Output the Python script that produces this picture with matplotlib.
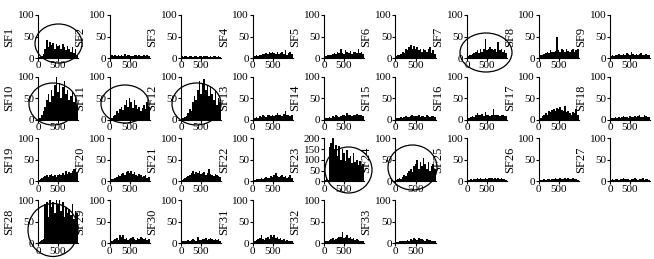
import numpy as np
import matplotlib.pyplot as plt
from matplotlib.patches import Ellipse

plt.rcParams['font.family'] = ['Liberation Serif', 'DejaVu Serif']

# bin centres along the x axis (25 bins of 40)
x_bins = np.arange(20, 1000, 40)

sf = {}
sf['SF1'] = [2, 3, 5, 10, 20, 42, 25, 38, 30, 35, 22, 33, 28, 30, 20, 32, 25, 18, 28, 22, 15, 25, 12, 20, 8]
sf['SF2'] = [5, 6, 4, 7, 5, 8, 5, 6, 4, 9, 5, 6, 7, 5, 4, 6, 8, 5, 6, 4, 5, 7, 5, 6, 4]
sf['SF3'] = [4, 3, 5, 4, 3, 4, 5, 3, 4, 4, 3, 5, 4, 3, 4, 4, 5, 3, 4, 3, 4, 5, 3, 4, 3]
sf['SF4'] = [4, 5, 6, 5, 8, 7, 10, 9, 12, 10, 14, 11, 15, 12, 10, 14, 9, 12, 15, 10, 18, 8, 12, 15, 10]
sf['SF5'] = [4, 5, 6, 8, 7, 10, 12, 9, 15, 11, 20, 12, 10, 18, 14, 12, 16, 10, 13, 15, 11, 20, 12, 14, 10]
sf['SF6'] = [5, 6, 8, 10, 15, 12, 20, 18, 25, 30, 22, 28, 20, 25, 18, 22, 15, 20, 18, 15, 20, 25, 12, 18, 10]
sf['SF7'] = [5, 6, 8, 10, 12, 15, 18, 12, 22, 15, 20, 45, 18, 20, 25, 22, 18, 20, 15, 38, 18, 20, 15, 18, 12]
sf['SF8'] = [5, 6, 8, 10, 12, 15, 12, 18, 15, 14, 16, 50, 18, 15, 20, 18, 15, 22, 16, 15, 18, 20, 15, 18, 22]
sf['SF9'] = [5, 6, 5, 8, 7, 10, 6, 8, 9, 7, 12, 10, 8, 15, 9, 8, 10, 7, 9, 12, 8, 7, 10, 8, 6]
sf['SF10'] = [3, 5, 10, 20, 30, 45, 60, 40, 70, 55, 80, 100, 65, 85, 50, 75, 90, 60, 70, 45, 55, 65, 40, 50, 35]
sf['SF11'] = [3, 5, 8, 12, 20, 15, 25, 30, 22, 35, 45, 30, 50, 40, 28, 45, 35, 25, 30, 20, 28, 35, 25, 40, 30]
sf['SF12'] = [3, 5, 6, 8, 15, 25, 20, 40, 55, 45, 70, 90, 60, 85, 95, 70, 80, 55, 75, 60, 45, 70, 35, 50, 40]
sf['SF13'] = [4, 5, 6, 5, 8, 6, 10, 8, 7, 10, 12, 8, 10, 9, 12, 15, 10, 12, 8, 14, 20, 10, 12, 8, 10]
sf['SF14'] = [3, 4, 5, 6, 5, 8, 6, 10, 8, 7, 9, 12, 10, 8, 15, 10, 12, 9, 11, 10, 14, 12, 10, 12, 8]
sf['SF15'] = [3, 4, 5, 6, 5, 6, 8, 6, 7, 8, 10, 8, 9, 8, 10, 7, 9, 8, 6, 10, 8, 7, 9, 8, 7]
sf['SF16'] = [3, 5, 6, 8, 6, 10, 15, 12, 10, 13, 8, 18, 10, 12, 9, 11, 25, 12, 10, 12, 8, 10, 12, 9, 8]
sf['SF17'] = [3, 5, 8, 10, 15, 12, 20, 18, 22, 25, 20, 28, 25, 30, 22, 20, 32, 18, 20, 15, 12, 18, 15, 25, 10]
sf['SF18'] = [3, 4, 5, 6, 5, 7, 5, 6, 8, 6, 7, 5, 8, 6, 7, 9, 6, 8, 10, 7, 6, 12, 8, 7, 6]
sf['SF19'] = [4, 6, 8, 10, 12, 15, 10, 14, 18, 12, 15, 10, 16, 18, 14, 20, 15, 25, 18, 22, 20, 25, 28, 30, 20]
sf['SF20'] = [3, 5, 6, 8, 10, 15, 12, 18, 20, 15, 22, 25, 20, 25, 18, 22, 15, 12, 18, 14, 10, 12, 15, 8, 10]
sf['SF21'] = [4, 6, 8, 10, 12, 15, 20, 25, 18, 22, 20, 25, 18, 20, 22, 15, 20, 28, 18, 15, 12, 18, 14, 12, 10]
sf['SF22'] = [3, 4, 5, 6, 5, 8, 6, 7, 10, 8, 9, 12, 10, 15, 20, 12, 10, 12, 14, 10, 12, 8, 10, 15, 8]
sf['SF23'] = [5, 10, 8, 160, 180, 200, 150, 170, 120, 165, 100, 150, 130, 95, 145, 110, 120, 85, 130, 90, 100, 75, 95, 70, 80]
sf['SF24'] = [3, 5, 8, 6, 10, 15, 12, 20, 25, 30, 22, 35, 40, 50, 30, 45, 35, 55, 40, 30, 45, 25, 35, 40, 30]
sf['SF25'] = [3, 4, 5, 4, 6, 5, 7, 6, 8, 6, 5, 7, 6, 8, 7, 9, 6, 8, 5, 7, 6, 8, 5, 6, 4]
sf['SF26'] = [3, 4, 3, 5, 4, 6, 5, 4, 6, 5, 7, 6, 5, 8, 6, 5, 7, 6, 8, 5, 6, 7, 5, 6, 4]
sf['SF27'] = [4, 5, 4, 6, 5, 4, 6, 5, 7, 5, 6, 5, 4, 6, 5, 7, 5, 4, 6, 5, 7, 4, 5, 6, 4]
sf['SF28'] = [3, 5, 8, 10, 90, 95, 60, 100, 85, 95, 70, 100, 90, 100, 75, 95, 60, 85, 70, 80, 65, 90, 55, 75, 70]
sf['SF29'] = [3, 5, 8, 10, 12, 8, 20, 15, 18, 10, 12, 8, 10, 12, 15, 10, 8, 12, 10, 14, 12, 10, 12, 8, 10]
sf['SF30'] = [4, 5, 6, 5, 8, 6, 7, 10, 8, 6, 15, 8, 7, 10, 9, 12, 8, 10, 12, 9, 8, 10, 7, 9, 6]
sf['SF31'] = [3, 6, 8, 10, 12, 20, 10, 8, 12, 15, 10, 18, 15, 20, 12, 15, 10, 12, 8, 10, 6, 8, 5, 6, 4]
sf['SF32'] = [4, 5, 6, 8, 10, 12, 8, 10, 12, 15, 14, 25, 12, 15, 18, 12, 15, 10, 12, 8, 10, 8, 6, 5, 4]
sf['SF33'] = [2, 3, 4, 5, 4, 6, 5, 8, 6, 10, 8, 12, 10, 8, 12, 9, 10, 8, 6, 9, 7, 8, 6, 5, 4]

W, H = 654, 259
fig = plt.figure(figsize=(W / 100, H / 100), dpi=100)

names = list(sf.keys())
for k, name in enumerate(names):
    row, col = divmod(k, 9)
    left = 38 + 71.5 * col
    top = 15 + 61.7 * row
    ax = fig.add_axes([left / W, 1 - (top + 43) / H, 40 / W, 43 / H])
    ax.bar(x_bins, sf[name], width=40, color='black', linewidth=0)
    ymax = 200 if name == 'SF23' else 100
    ax.set_ylim(0, ymax)
    ax.set_xlim(0, 1000)
    ax.set_yticks(np.arange(0, ymax + 1, 50))
    ax.set_xticks([0, 500])
    ax.spines['top'].set_visible(False)
    ax.spines['right'].set_visible(False)
    ax.tick_params(labelsize=8, length=2, width=0.8, pad=0.5)
    ax.set_ylabel(name, fontsize=9, labelpad=2)
    ax.patch.set_alpha(0)

# circles drawn round some panels, in pixels (cx, cy, w, h)
ellipses = [(58.5, 43.5, 47, 39), (486, 52.5, 52, 39), (53, 104, 48, 42),
            (125, 104, 48, 38), (196.5, 104, 49, 42), (348.5, 170, 47, 46),
            (412.5, 167.5, 49, 45), (53, 230, 50, 53)]
for cx, cy, w, h in ellipses:
    e = Ellipse((cx / W, 1 - cy / H), w / W, h / H, transform=fig.transFigure,
                fill=False, edgecolor='black', linewidth=0.9)
    fig.add_artist(e)

fig.savefig('out.png', dpi=100)
